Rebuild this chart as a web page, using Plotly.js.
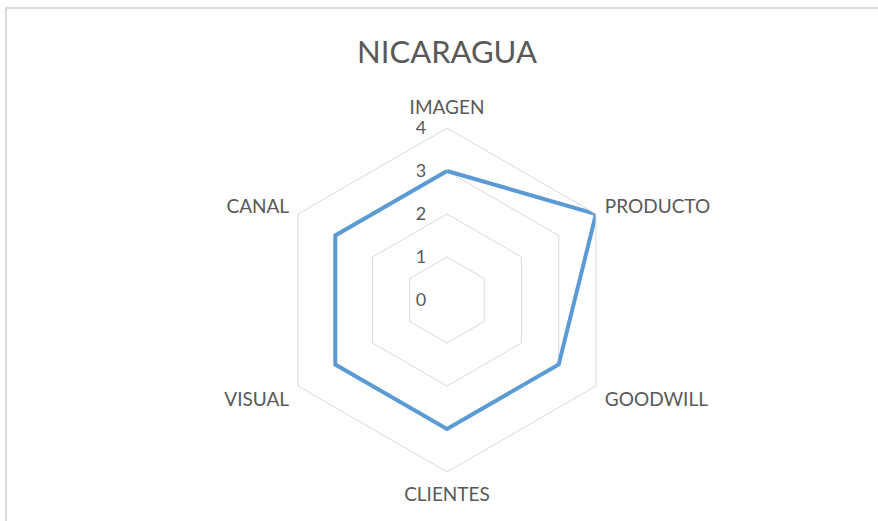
<!DOCTYPE html>
<html>
<head>
<meta charset="utf-8">
<script src="https://cdn.plot.ly/plotly-3.0.1.min.js"></script>
<style>
  html, body { margin: 0; padding: 0; background: #ffffff; }
  #chart { width: 878px; height: 521px; }
  #frame { position: absolute; left: 5px; top: 7px; width: 900px; height: 600px;
           border: 2px solid #d9d9d9; pointer-events: none; box-sizing: border-box; }
</style>
</head>
<body>
<div id="chart"></div>
<div id="frame"></div>
<script>
const chartTitle = "NICARAGUA";
const categories = ["IMAGEN", "PRODUCTO", "GOODWILL", "CLIENTES", "VISUAL", "CANAL"];
const values = [3, 4, 3, 3, 3, 3];
const radialTicks = [0, 1, 2, 3, 4];

const theta = categories.concat([categories[0]]);
const r = values.concat([values[0]]);

const trace = {
  type: "scatterpolar",
  r: r,
  theta: theta,
  mode: "lines",
  line: { color: "#5b9bd5", width: 4 },
  hoverinfo: "skip",
  showlegend: false
};

const layout = {
  width: 878,
  height: 521,
  paper_bgcolor: "#ffffff",
  plot_bgcolor: "#ffffff",
  margin: { l: 275, r: 259, t: 128, b: 49 },
  font: { family: "Lato, 'Open Sans', sans-serif", color: "#595959" },
  title: {
    text: chartTitle,
    font: { size: 31, color: "#595959", family: "Lato, 'Open Sans', sans-serif" },
    xref: "paper", x: 0.5, xanchor: "center",
    yref: "container", y: 1 - 52.5 / 521, yanchor: "middle"
  },
  polar: {
    bgcolor: "#ffffff",
    gridshape: "linear",
    domain: { x: [0, 1], y: [0, 1] },
    radialaxis: {
      range: [0, 4],
      tickvals: radialTicks,
      ticktext: radialTicks.map(String),
      angle: 90,
      tickangle: 90,
      side: "counterclockwise",
      showline: false,
      gridcolor: "#d9d9d9",
      gridwidth: 1,
      ticks: "outside",
      ticklen: 14,
      tickcolor: "rgba(0,0,0,0)",
      tickfont: { size: 18, color: "#595959" }
    },
    angularaxis: {
      type: "category",
      categoryarray: categories,
      rotation: 90,
      direction: "clockwise",
      showgrid: false,
      showline: true,
      linecolor: "#d9d9d9",
      linewidth: 1,
      ticks: "outside",
      ticklen: 6,
      tickcolor: "rgba(0,0,0,0)",
      tickfont: { size: 19, color: "#595959" }
    }
  }
};

Plotly.newPlot("chart", [trace], layout, { displayModeBar: false, staticPlot: true });
</script>
</body>
</html>
